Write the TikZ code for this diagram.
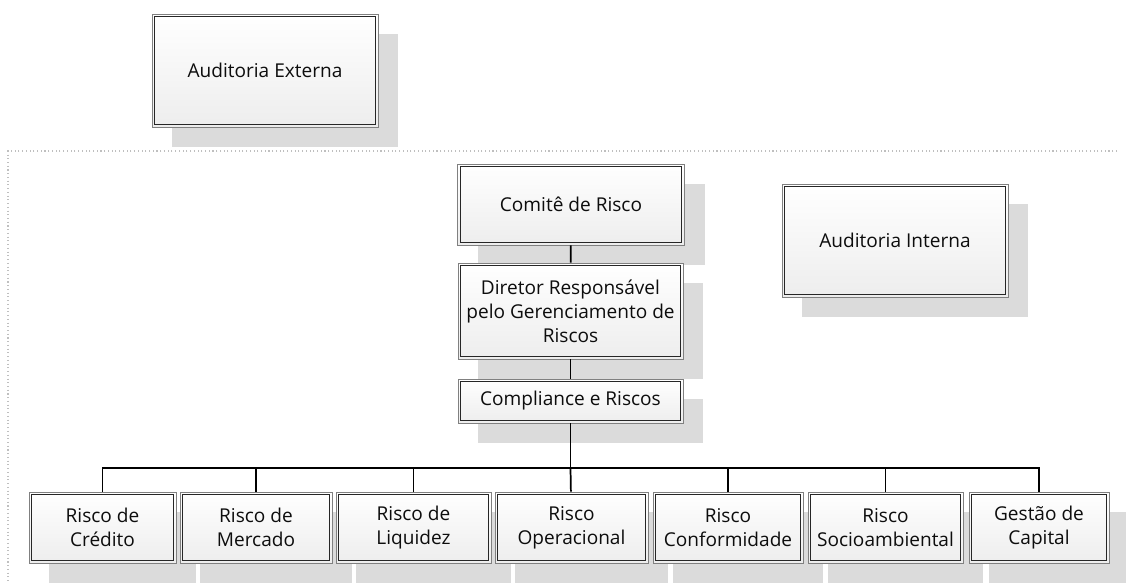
\documentclass[tikz,border=0pt]{standalone}
\usepackage{fontspec}
\setmainfont{Open Sans}
\usetikzlibrary{positioning,shadows}

\begin{document}
\begin{tikzpicture}[x=0.75pt, y=-0.75pt,
        org box/.style={rectangle, draw=black!50, line width=0.6pt, top color=white, bottom color=black!7, align=center, inner sep=0pt, text=black!95,
            font=\fontsize{14.3}{18}\selectfont,
            drop shadow={shadow xshift=15pt, shadow yshift=-15pt, fill=black!14, opacity=1},
            path picture={\draw[black!85, line width=0.7pt] ([shift={(2.2pt,2.2pt)}]path picture bounding box.south west) rectangle ([shift={(-2.2pt,-2.2pt)}]path picture bounding box.north east);}},
        risk box/.style={org box, minimum height=53.25pt},
        line/.style={draw, line width=1.3pt}]
        \useasboundingbox (0,0) rectangle (1126,583);
        % dotted frame of the internal area
        \draw[black!25, dotted, line width=0.8pt] (1117,151) -- (8,151) -- (8,583);

        \node [org box, minimum width=169.5pt, minimum height=84.75pt] (externa) at (265,70.5) {Auditoria Externa};
        \node [org box, minimum width=169.5pt, minimum height=84.75pt] (interna) at (895,240.5) {Auditoria Interna};
        \node [org box, minimum width=170.25pt, minimum height=60.75pt] (comite) at (571,204.5) {Comitê de Risco};
        \node [org box, minimum width=168.75pt, minimum height=72pt] (diretor) at (570.5,311) {Diretor Responsável\\pelo Gerenciamento de\\Riscos};
        \node [org box, minimum width=168.75pt, minimum height=33pt] (compliance) at (570.5,401) {Compliance e Riscos};

        \node [risk box, minimum width=110.25pt] (credito) at (102.5,527.5) {Risco de\\Crédito};
        \node [risk box, minimum width=114pt] (mercado) at (256,527.5) {Risco de\\Mercado};
        \node [risk box, minimum width=116.25pt] (liquidez) at (413.5,527.5) {Risco de\\Liquidez};
        \node [risk box, minimum width=114.75pt] (operacional) at (571.5,527.5) {Risco\\Operacional};
        \node [risk box, minimum width=112.5pt] (conformidade) at (728,527.5) {Risco\\Conformidade};
        \node [risk box, minimum width=116.25pt] (socio) at (885.5,527.5) {Risco\\Socioambiental};
        \node [risk box, minimum width=105pt] (capital) at (1039,527.5) {Gestão de\\Capital};

        \coordinate (bus) at (570.5,468);
        \path [line] (comite) -- (diretor);
        \path [line] (diretor) -- (compliance);
        \path [line] (compliance) -- (bus);
        \path [line] (bus) -| (credito);
        \path [line] (bus) -| (mercado);
        \path [line] (bus) -| (liquidez);
        \path [line] (bus) -- (operacional);
        \path [line] (bus) -| (conformidade);
        \path [line] (bus) -| (socio);
        \path [line] (bus) -| (capital);
    \end{tikzpicture}
\end{document}
